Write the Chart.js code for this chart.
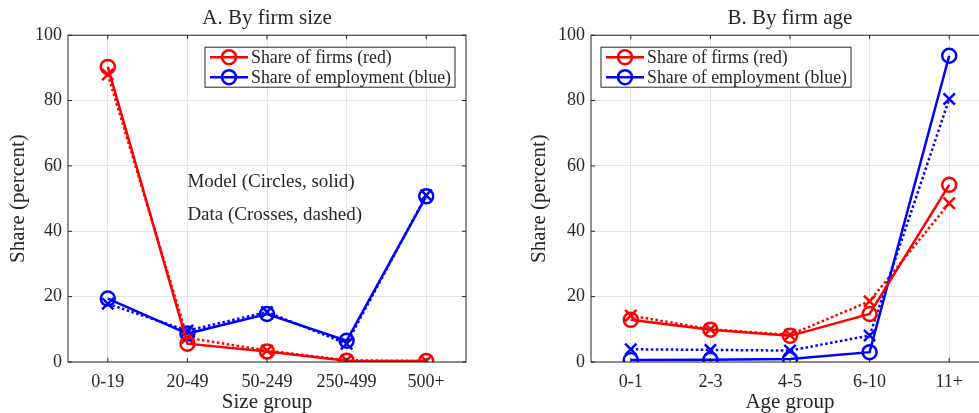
<!DOCTYPE html>
<html>
<head>
<meta charset="utf-8">
<script src="https://cdn.jsdelivr.net/npm/chart.js@4.4.0/dist/chart.umd.min.js"></script>
<style>
  body { margin: 0; background: #fff; width: 979px; height: 413px; overflow: hidden; position: relative; }
  .panel { position: absolute; top: 0; }
</style>
</head>
<body>
<div class="panel" style="left:0"><canvas id="sizeChart" width="490" height="413"></canvas></div>
<div class="panel" style="left:500px"><canvas id="ageChart" width="510" height="413"></canvas></div>
<script>
const sizeGroups = ['0-19', '20-49', '50-249', '250-499', '500+'];
const ageGroups = ['0-1', '2-3', '4-5', '6-10', '11+'];
const yTicks = [0, 20, 40, 60, 80, 100];

// panel A: by firm size
const modelFirmsSize = [90.3, 5.6, 3.2, 0.4, 0.3];
const dataFirmsSize = [88.0, 7.4, 3.5, 0.5, 0.3];
const modelEmpSize = [19.4, 8.7, 14.7, 6.5, 50.7];
const dataEmpSize = [17.8, 9.6, 15.3, 5.6, 51.0];

// panel B: by firm age
const modelFirmsAge = [12.9, 9.9, 8.0, 14.7, 54.2];
const dataFirmsAge = [14.2, 10.0, 8.3, 18.6, 48.6];
const modelEmpAge = [0.6, 0.7, 0.9, 3.0, 93.7];
const dataEmpAge = [3.9, 3.7, 3.5, 8.1, 80.5];

const RED = '#ff0000';
const BLUE = '#0000ff';
const INK = '#262626';
const FONT = "'Liberation Serif', 'DejaVu Serif', serif";

Chart.defaults.font.family = FONT;
Chart.defaults.color = INK;

function model(label, values, color) {
    return {
        label: label, data: values, borderColor: color, backgroundColor: 'transparent',
        borderWidth: 2.5, pointStyle: 'circle', pointRadius: 7, pointBorderWidth: 2.5,
        pointBackgroundColor: 'transparent', legendEntry: true
    };
}

function observed(label, values, color) {
    return {
        label: label, data: values, borderColor: color, backgroundColor: 'transparent',
        borderWidth: 2.5, borderDash: [2.5, 2.5], pointStyle: 'crossRot', pointRadius: 8,
        pointBorderWidth: 2.5
    };
}

// axes box with inward tick marks
const framePlugin = {
    id: 'frame',
    afterDatasetsDraw(chart) {
        const a = chart.chartArea, ctx = chart.ctx;
        ctx.save();
        ctx.strokeStyle = INK;
        ctx.lineWidth = 1;
        ctx.strokeRect(a.left, a.top, a.right - a.left, a.bottom - a.top);
        const xs = chart.scales.x, ys = chart.scales.y;
        ctx.beginPath();
        xs.ticks.forEach((t, i) => {
            const px = xs.getPixelForTick(i);
            ctx.moveTo(px, a.bottom); ctx.lineTo(px, a.bottom - 4);
            ctx.moveTo(px, a.top); ctx.lineTo(px, a.top + 4);
        });
        ys.ticks.forEach((t, i) => {
            const py = ys.getPixelForTick(i);
            ctx.moveTo(a.left, py); ctx.lineTo(a.left + 4, py);
            ctx.moveTo(a.right, py); ctx.lineTo(a.right - 4, py);
        });
        ctx.stroke();
        ctx.restore();
    }
};

// boxed legend inside the plot, plus optional text notes
const boxLegendPlugin = {
    id: 'boxLegend',
    afterDraw(chart, args, opts) {
        const a = chart.chartArea, ctx = chart.ctx;
        const w = 250, h = 40;
        const x0 = opts.anchor === 'right' ? a.right - 11 - w : a.left + 10;
        const y0 = a.top + 12;
        ctx.save();
        ctx.fillStyle = '#fff';
        ctx.fillRect(x0, y0, w, h);
        ctx.strokeStyle = INK;
        ctx.lineWidth = 1;
        ctx.strokeRect(x0, y0, w, h);
        ctx.font = '17.8px ' + FONT;
        ctx.textBaseline = 'middle';
        ctx.textAlign = 'left';
        const entries = chart.data.datasets.filter(d => d.legendEntry);
        entries.forEach((d, i) => {
            const y = y0 + 10 + i * 20;
            ctx.strokeStyle = d.borderColor;
            ctx.lineWidth = 2.5;
            ctx.beginPath();
            ctx.moveTo(x0 + 5, y); ctx.lineTo(x0 + 43, y);
            ctx.stroke();
            ctx.beginPath();
            ctx.arc(x0 + 24, y, 7, 0, Math.PI * 2);
            ctx.stroke();
            ctx.fillStyle = INK;
            ctx.fillText(d.label, x0 + 46, y + 1);
        });
        ctx.font = '19px ' + FONT;
        (opts.notes || []).forEach(n => {
            ctx.fillStyle = INK;
            ctx.fillText(n.text, chart.scales.x.getPixelForValue(n.x), chart.scales.y.getPixelForValue(n.y));
        });
        ctx.restore();
    }
};

function makeChart(id, title, xTitle, labels, series, yWidth, yTitlePad, padRight, legendOpts) {
    new Chart(document.getElementById(id), {
        type: 'line',
        data: {
            labels: labels,
            datasets: [
                model('Share of firms (red)', series[0], RED),
                model('Share of employment (blue)', series[1], BLUE),
                observed('Share of firms, data', series[2], RED),
                observed('Share of employment, data', series[3], BLUE)
            ]
        },
        options: {
            responsive: false,
            animation: false,
            layout: { padding: { top: 0, right: padRight, bottom: 0, left: 0 } },
            plugins: {
                legend: { display: false },
                tooltip: { enabled: false },
                title: {
                    display: true, text: title, fullSize: false, color: INK,
                    font: { size: 21, weight: 'normal' }, padding: { top: 6, bottom: 4 }
                },
                boxLegend: legendOpts
            },
            scales: {
                x: {
                    offset: true,
                    grid: { color: '#e3e3e3', drawTicks: false, offset: false },
                    border: { display: false },
                    ticks: { font: { size: 18 }, padding: 9, color: INK },
                    title: { display: true, text: xTitle, font: { size: 21, lineHeight: 1 }, padding: { top: 0, bottom: 0 }, color: INK },
                    afterFit(s) { s.height = 51; }
                },
                y: {
                    min: 0, max: 100,
                    afterBuildTicks(s) { s.ticks = yTicks.map(v => ({ value: v })); },
                    grid: { color: '#e3e3e3', drawTicks: false },
                    border: { display: false },
                    ticks: { font: { size: 18 }, padding: 6, color: INK },
                    title: { display: true, text: 'Share (percent)', font: { size: 21 }, padding: { top: yTitlePad, bottom: 0 }, color: INK },
                    afterFit(s) { s.width = yWidth; }
                }
            }
        },
        plugins: [framePlugin, boxLegendPlugin]
    });
}

makeChart('sizeChart', 'A. By firm size', 'Size group', sizeGroups,
    [modelFirmsSize, modelEmpSize, dataFirmsSize, dataEmpSize], 68, 6, 24,
    { anchor: 'right', notes: [
        { text: 'Model (Circles, solid)', x: 1, y: 55 },
        { text: 'Data (Crosses, dashed)', x: 1, y: 45 }
    ] });

makeChart('ageChart', 'B. By firm age', 'Age group', ageGroups,
    [modelFirmsAge, modelEmpAge, dataFirmsAge, dataEmpAge], 91, 27, 21,
    { anchor: 'left', notes: [] });
</script>
</body>
</html>
